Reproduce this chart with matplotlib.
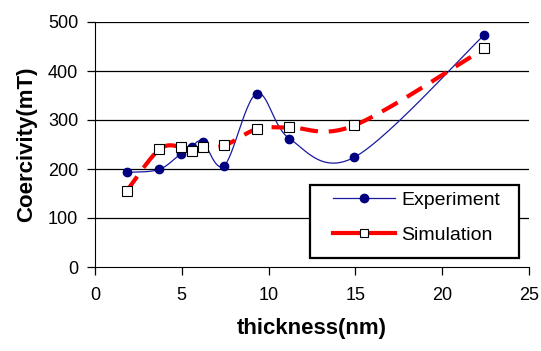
import matplotlib
matplotlib.use('Agg')
import matplotlib.pyplot as plt
from matplotlib.patches import Rectangle
import numpy as np

plt.rcParams['font.family'] = ['Liberation Sans', 'DejaVu Sans']

# 数据
exp_x = [1.83, 3.69, 4.93, 5.57, 6.2, 7.45, 9.31, 11.2, 14.94, 22.43]
exp_y = [193, 199, 231, 245, 256, 207, 354, 262, 224, 474]
sim_x = [1.82, 3.7, 4.97, 5.57, 6.2, 7.45, 9.35, 11.2, 14.94, 22.43]
sim_y = [155, 240, 245, 237, 245, 248, 282, 285, 289, 446]
labels = ['Experiment', 'Simulation']


# 类似 Excel 的平滑线 (Catmull-Rom)
def smooth(xs, ys, sx=17.36, sy=0.49, n=30):
    p = np.column_stack([np.array(xs) * sx, np.array(ys) * sy])
    p = np.vstack([p[0], p, p[-1]])
    out = []
    for i in range(1, len(p) - 2):
        p0, p1, p2, p3 = p[i - 1], p[i], p[i + 1], p[i + 2]
        c1 = p1 + (p2 - p0) / 6.0
        c2 = p2 - (p3 - p1) / 6.0
        t = np.linspace(0, 1, n)[:, None]
        seg = (1 - t) ** 3 * p1 + 3 * (1 - t) ** 2 * t * c1 + 3 * (1 - t) * t ** 2 * c2 + t ** 3 * p2
        out.append(seg)
    out = np.vstack(out)
    return out[:, 0] / sx, out[:, 1] / sy


fig = plt.figure(figsize=(5.41, 3.51), dpi=100)
ax = fig.add_axes([95 / 541, 1 - 267 / 351, 434 / 541, 245 / 351])

for v in [100, 200, 300, 400, 500]:
    ax.axhline(v, color='black', lw=0.9, zorder=0)

ex, ey = smooth(exp_x, exp_y)
ax.plot(ex, ey, color='#1a1aa0', lw=0.9, zorder=2)
ax.plot(exp_x, exp_y, 'o', color='#000080', ms=6, zorder=3)

sx_, sy_ = smooth(sim_x, sim_y)
ax.plot(sx_, sy_, color='red', lw=3, dashes=(4.3, 2.6), zorder=4)
ax.plot(sim_x, sim_y, 's', mfc='white', mec='black', mew=0.8, ms=6.5, zorder=5)

# 图例框（手工画）
ax.add_patch(Rectangle((0.4954, 0.0367), 0.4816, 0.298, transform=ax.transAxes,
                       facecolor='white', edgecolor='black', lw=1.6, zorder=6))

# 图例用的假句柄
h1, = ax.plot([], [], '-o', color='#1a1aa0', lw=0.9, mfc='#000080', mec='#000080', ms=6)
h2, = ax.plot([], [], '-s', color='red', lw=3, mfc='white', mec='black', mew=0.8, ms=5.5)
leg = ax.legend([h1, h2], labels, loc='upper left',
                bbox_to_anchor=(0.548, 0.31), frameon=False,
                fontsize=14, handlelength=3.2, handletextpad=0.3,
                borderpad=0, borderaxespad=0, labelspacing=0.9)
leg.set_zorder(7)

ax.set_xlim(0, 25)
ax.set_ylim(0, 500)
ax.set_xticks([0, 5, 10, 15, 20, 25])
ax.set_yticks([0, 100, 200, 300, 400, 500])
ax.tick_params(direction='out', length=5.5, labelsize=13, width=0.9)
ax.tick_params(axis='x', pad=9)
ax.tick_params(axis='y', pad=6.5)
ax.spines['top'].set_visible(False)
ax.spines['right'].set_visible(False)
ax.set_xlabel('thickness(nm)', fontsize=16, fontweight='bold', labelpad=10)
ax.set_ylabel('Coercivity(mT)', fontsize=16, fontweight='bold', labelpad=8)

plt.savefig('out.png', dpi=100)
